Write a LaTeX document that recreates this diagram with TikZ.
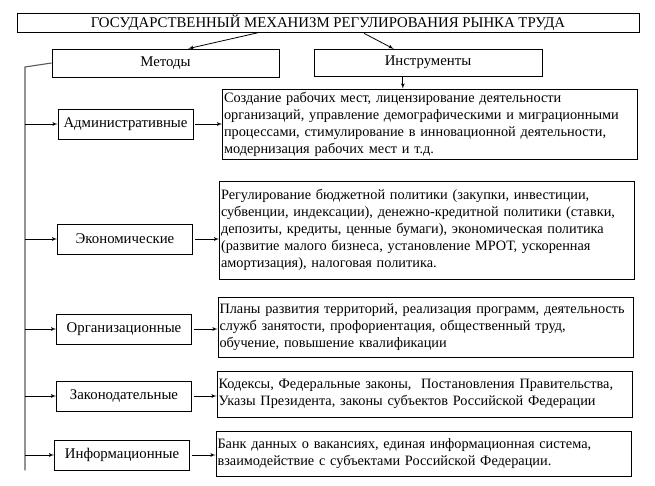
\documentclass[tikz,border=0pt]{standalone}
\usepackage{fontspec}
\setmainfont{Liberation Serif}
\usepackage{tikz}
\usetikzlibrary{calc,arrows,positioning}

\begin{document}
\begin{tikzpicture}[>=latex',x=1pt,y=-1pt]
      \tikzset{
	  box/.style={draw=black, line width=0.8pt, inner sep=0pt, font=\fontsize{14.8}{17}\selectfont},
	  head/.style={box, minimum width=622pt, minimum height=19pt},
	  group/.style={box, minimum width=227pt, minimum height=28pt},
	  method/.style={box, minimum width=135pt, minimum height=30pt},
	  tool/.style={box, minimum width=415pt, align=left, text width=412pt, font=\fontsize{14.3}{17}\selectfont},
	  link/.style={->, black, line width=0.8pt, shorten <=2pt},
	  spine/.style={black!65, line width=1.1pt},
      }
      \useasboundingbox (0,0) rectangle (655,486);

      \node (title) at (328,22.5) [head] {ГОСУДАРСТВЕННЫЙ МЕХАНИЗМ РЕГУЛИРОВАНИЯ РЫНКА ТРУДА};
      \node (meth) at (165.5,63) [group] {Методы};
      \node (instr) at (428,62.75) [group, minimum width=228pt, minimum height=27pt] {Инструменты};

      \node (adm) at (125.5,124) [method] {Административные};
      \node (eco) at (125,239) [method] {Экономические};
      \node (org) at (124,329) [method] {Организационные};
      \node (law) at (124,396) [method] {Законодательные};
      \node (inf) at (122,455) [method] {Информационные};

      \node (t1) at (430,124) [tool, minimum height=70pt] {Создание рабочих мест, лицензирование деятельности\\ организаций, управление демографическими и миграционными\\ процессами, стимулирование в инновационной деятельности,\\ модернизация рабочих мест и т.д.};
      \node (t2) at (427,230) [tool, minimum height=98pt] {Регулирование бюджетной политики (закупки, инвестиции,\\ субвенции, индексации), денежно-кредитной политики (ставки,\\ депозиты, кредиты, ценные бумаги), экономическая политика\\ (развитие малого бизнеса, установление МРОТ, ускоренная\\ амортизация), налоговая политика.};
      \node (t3) at (425.5,327) [tool, minimum height=60pt] {Планы развития территорий, реализация программ, деятельность\\ служб занятости, профориентация, общественный труд,\\ обучение, повышение квалификации};
      \node (t4) at (424.5,394) [tool, minimum height=46pt] {Кодексы, Федеральные законы,\ \ Постановления Правительства,\\ Указы Президента, законы субъектов Российской Федерации};
      \node (t5) at (423.5,453.5) [tool, minimum height=45pt] {Банк данных о вакансиях, единая информационная система,\\ взаимодействие с субъектами Российской Федерации.};

      % title to the two groups
      \draw [link] ($(title.south west)!0.39!(title.south east)$) -- ($(meth.north west)!0.6!(meth.north east)$);
      \draw [link] ($(title.south west)!0.555!(title.south east)$) -- ($(instr.north west)!0.35!(instr.north east)$);
      \coordinate (down) at ($(instr.south west)!0.39!(instr.south east)$);
      \draw [link, shorten <=0pt] (down) -- (down |- t1.north);

      % spine of the methods
      \coordinate (top) at (25,67);
      \draw [spine] (meth.west) -- (top) -- (top |- inf.south);
      \foreach \m in {adm,eco,org,law,inf}
	\draw [link, shorten <=0pt] (top |- \m.west) -- (\m.west);

      % methods to instruments
      \draw [link] (adm.east) -- (adm.east -| t1.west);
      \draw [link] (eco.east) -- (eco.east -| t2.west);
      \draw [link] (org.east) -- (org.east -| t3.west);
      \draw [link] (law.east) -- (law.east -| t4.west);
      \draw [link] (inf.east) -- (inf.east -| t5.west);
\end{tikzpicture}
\end{document}
